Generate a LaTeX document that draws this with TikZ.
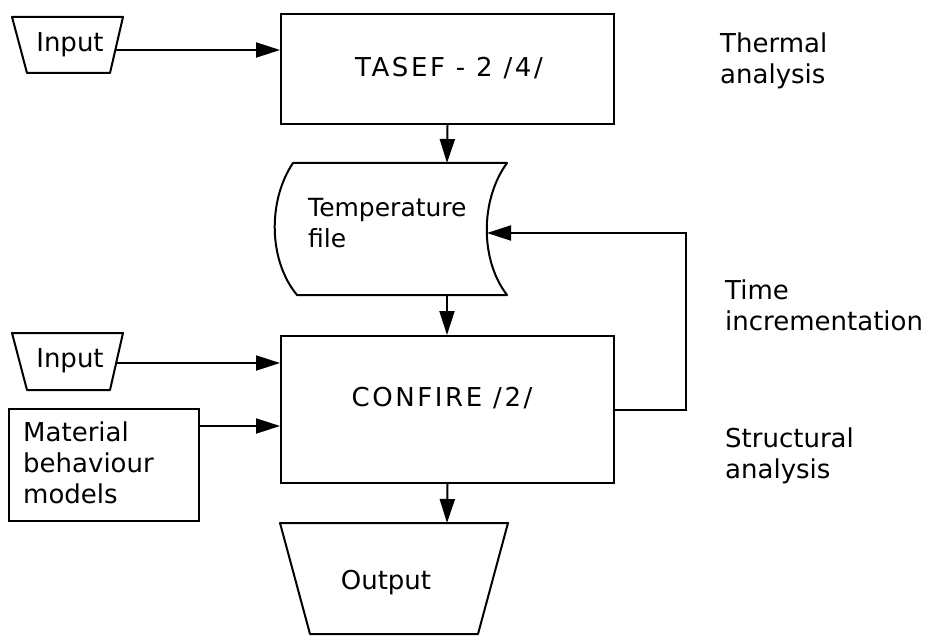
\documentclass[tikz,border=0pt]{standalone}
\usepackage{fontspec}
\setmainfont{DejaVu Sans}
\newfontfamily\widefont{DejaVu Sans}[LetterSpace=10]
\usetikzlibrary{arrows.meta}
\begin{document}
\begin{tikzpicture}[x=1pt,y=-1pt,
  line/.style={line width=2pt, line join=round},
  flow/.style={line width=2pt,-{Triangle[length=24pt,width=15pt]}},
  lbl/.style={font=\fontsize{26}{31}\selectfont, inner sep=0pt},
  wlbl/.style={font=\widefont\fontsize{26}{31}\selectfont, inner sep=0pt},
  box/.style={draw, line width=2pt, inner sep=0pt, anchor=north west},
  side/.style={font=\fontsize{26}{31}\selectfont, inner sep=0pt, align=left, anchor=north west}
]
\useasboundingbox (0,0) rectangle (933,636);

% Input 1 (manual input trapezium)
\draw[line] (12,17) -- (123,17) -- (110,73) -- (27,73) -- cycle;
\node[lbl] (in1) at (70,45) {Input};
\coordinate (in1o) at (115,50);

% TASEF box
\node[box, minimum width=333pt, minimum height=110pt] (tasef) at (280,13) {};
\node[wlbl] (tasefT) at (449,68) {TASEF - 2 /4/};

% Thermal analysis
\node[side] (therm) at (720,33) {Thermal\\analysis};

% Temperature file
\draw[line] (293,163) -- (507,163)
  .. controls (480,200) and (480,260) .. (507,295)
  -- (297,295)
  .. controls (268,260) and (268,200) .. (293,163) -- cycle;
\node[lbl, align=left, anchor=north west, font=\fontsize{25}{31}\selectfont] (temp) at (308,198) {Temperature\\file};
\coordinate (temptop) at (447,163);
\coordinate (tempbot) at (447,295);
\coordinate (tempR) at (487,233);

% CONFIRE box
\node[box, minimum width=333pt, minimum height=147pt] (conf) at (280,335) {};
\node[wlbl] (confT) at (442,398) {CONFIRE /2/};

% Input 2
\draw[line] (12,333) -- (123,333) -- (110,390) -- (27,390) -- cycle;
\node[lbl] (in2) at (70,361) {Input};
\coordinate (in2o) at (116,363);

% Material box
\node[box, minimum width=190pt, minimum height=112pt] (mat) at (8,408) {};
\node[side] (matT) at (23,422) {Material\\behaviour\\models};
\coordinate (matO) at (198,426);

% Output
\draw[line] (280,523) -- (508,523) -- (478,634) -- (310,634) -- cycle;
\node[lbl] (out) at (386,583) {Output};
\coordinate (outtop) at (447,523);

% Right labels
\node[side] (time) at (725,280) {Time\\incrementation};
\node[side] (struct) at (725,428) {Structural\\analysis};

% Connectors
\draw[flow] (in1o) -- (in1o -| tasef.west);
\draw[flow] (tasef.south) -- (temptop);
\draw[flow] (tempbot) -- (tempbot |- conf.north);
\draw[flow] (in2o) -- (in2o -| conf.west);
\draw[flow] (matO) -- (matO -| conf.west);
\draw[flow] (conf.south) -- (outtop);
\coordinate (fbA) at (613,410);
\draw[flow] (fbA) -- (686,410) |- (tempR);
\end{tikzpicture}
\end{document}
